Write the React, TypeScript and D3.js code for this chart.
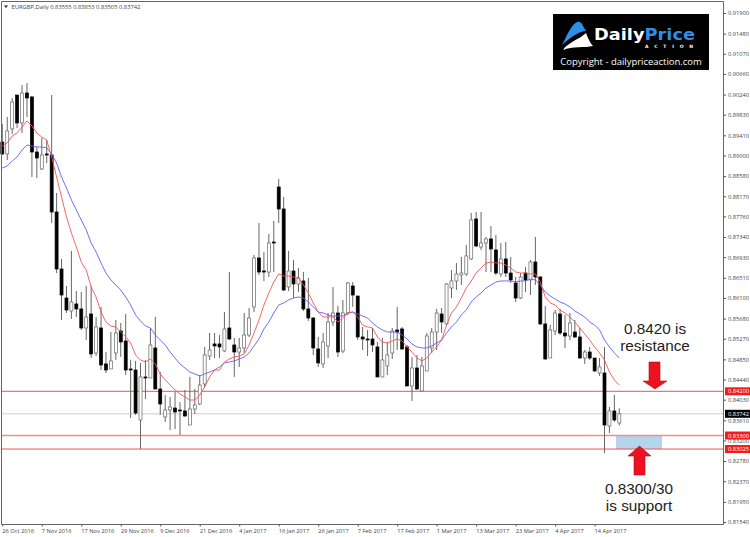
import React, { useEffect, useRef } from 'react';
import * as d3 from 'd3';

// Daily bars, oldest first
const opens = [0.89274,0.89031,0.89540,0.90231,0.89662,0.90272,0.90191,0.89071,0.88725,0.89031,0.89010,0.87850,0.86690,0.86099,0.85835,0.85978,0.85876,0.85489,0.85774,0.84980,0.85489,0.84757,0.84655,0.84980,0.85428,0.85225,0.84655,0.84634,0.83616,0.84492,0.84471,0.85082,0.84247,0.83678,0.83820,0.83860,0.83820,0.83800,0.83514,0.83840,0.83942,0.84349,0.84919,0.85164,0.85164,0.85021,0.85489,0.85143,0.85000,0.85082,0.85346,0.85917,0.86914,0.86649,0.86628,0.87239,0.88359,0.87911,0.86324,0.86649,0.86385,0.86446,0.85876,0.85692,0.85062,0.84757,0.85123,0.85611,0.85794,0.85021,0.85794,0.86344,0.86140,0.85306,0.85265,0.85265,0.85103,0.84492,0.84716,0.84980,0.85448,0.85469,0.85103,0.84308,0.84675,0.84207,0.84614,0.85082,0.85407,0.85774,0.85571,0.86303,0.86446,0.86567,0.86588,0.86894,0.87708,0.87138,0.87219,0.87301,0.87077,0.86588,0.86894,0.86608,0.86405,0.86099,0.86608,0.86466,0.86832,0.86527,0.85571,0.84878,0.85428,0.85774,0.85387,0.85326,0.85407,0.85306,0.84878,0.85000,0.84878,0.84573,0.84573,0.83494,0.83800,0.83555];
const highs = [0.89642,0.89784,0.90170,0.90231,0.90435,0.90476,0.90211,0.89173,0.89356,0.89315,0.90231,0.88237,0.86894,0.86344,0.87057,0.86242,0.86221,0.86344,0.86344,0.85713,0.85917,0.85000,0.85407,0.85652,0.85591,0.85774,0.84838,0.84818,0.84777,0.84838,0.85489,0.85713,0.84593,0.84125,0.84085,0.84186,0.83982,0.84227,0.84492,0.84247,0.84532,0.85103,0.85387,0.85387,0.85346,0.85814,0.86628,0.85285,0.85285,0.85794,0.85896,0.86975,0.87626,0.87036,0.87403,0.87667,0.88522,0.88156,0.87057,0.86873,0.86710,0.86628,0.86507,0.85713,0.85306,0.85387,0.85794,0.86324,0.85937,0.86059,0.86425,0.86425,0.86140,0.85510,0.85448,0.85489,0.85204,0.85285,0.85204,0.85489,0.85917,0.85510,0.85143,0.84899,0.84939,0.84899,0.85387,0.85489,0.85876,0.85896,0.86405,0.86669,0.86812,0.86935,0.87178,0.87830,0.87850,0.87850,0.87342,0.87565,0.87382,0.87219,0.87239,0.86935,0.86527,0.86608,0.86731,0.86873,0.87342,0.86547,0.85937,0.85550,0.85855,0.85876,0.85753,0.85794,0.85652,0.85489,0.85041,0.85103,0.84878,0.84878,0.85103,0.83881,0.84125,0.83853];
const lows = [0.89010,0.88908,0.89438,0.89560,0.89458,0.89784,0.88562,0.88542,0.88705,0.88847,0.87626,0.86608,0.85652,0.85794,0.85672,0.85713,0.85448,0.85245,0.84878,0.84919,0.84634,0.84573,0.84655,0.84838,0.84899,0.84532,0.83657,0.83718,0.83026,0.84043,0.84471,0.84247,0.83718,0.83575,0.83413,0.83433,0.83311,0.83678,0.83514,0.83739,0.83921,0.84288,0.84838,0.84878,0.84878,0.85000,0.85245,0.84492,0.84696,0.84980,0.85306,0.85814,0.86567,0.86446,0.86527,0.86628,0.87626,0.86242,0.86242,0.86099,0.86221,0.85835,0.85632,0.84939,0.84696,0.84675,0.84878,0.85530,0.84899,0.84980,0.85753,0.85917,0.85245,0.85041,0.84919,0.85000,0.84492,0.84492,0.84532,0.84858,0.85041,0.85041,0.84308,0.84003,0.84227,0.84207,0.84614,0.84980,0.85041,0.85387,0.85550,0.86099,0.86262,0.86364,0.86547,0.86873,0.87138,0.87077,0.86628,0.86628,0.86567,0.86527,0.86527,0.86405,0.86018,0.86079,0.86221,0.86160,0.86364,0.85550,0.84838,0.84878,0.85346,0.85346,0.85082,0.85245,0.85285,0.84858,0.84757,0.84838,0.84593,0.84512,0.82945,0.83352,0.83575,0.83505];
const closes = [0.89031,0.89499,0.90089,0.89662,0.90272,0.90170,0.89071,0.88949,0.89010,0.89010,0.87850,0.86690,0.86160,0.85855,0.86018,0.85876,0.85489,0.85713,0.84960,0.85510,0.84736,0.84634,0.84818,0.85387,0.85204,0.84634,0.84634,0.83759,0.84492,0.84471,0.85143,0.84247,0.83942,0.83820,0.83881,0.83779,0.83800,0.83698,0.83840,0.83921,0.84328,0.84939,0.85041,0.85123,0.85103,0.85469,0.85265,0.85000,0.85082,0.85346,0.85692,0.86914,0.86628,0.86628,0.87219,0.87219,0.87911,0.86262,0.86649,0.86385,0.86507,0.85876,0.85692,0.85082,0.84777,0.85204,0.85611,0.85794,0.85000,0.85794,0.86405,0.86160,0.85306,0.85265,0.85245,0.85143,0.84492,0.84838,0.84939,0.85428,0.85407,0.85062,0.84308,0.84675,0.84247,0.84716,0.85326,0.85407,0.85794,0.85611,0.86385,0.86446,0.86588,0.86608,0.86955,0.87687,0.87158,0.87219,0.87301,0.87097,0.86608,0.86894,0.86608,0.86466,0.86099,0.86527,0.86466,0.86832,0.86527,0.85571,0.84858,0.85448,0.85794,0.85387,0.85326,0.85591,0.85306,0.84878,0.85000,0.84878,0.84614,0.84696,0.83514,0.83800,0.83616,0.83742];

// Moving averages, one value per bar
const fastMa = [0.89193,0.89254,0.89397,0.89458,0.89580,0.89702,0.89601,0.89458,0.89376,0.89315,0.88969,0.88562,0.88156,0.87749,0.87423,0.87138,0.86832,0.86669,0.86324,0.86120,0.85814,0.85611,0.85530,0.85510,0.85407,0.85306,0.85184,0.84939,0.84838,0.84797,0.84858,0.84757,0.84553,0.84430,0.84328,0.84227,0.84145,0.84085,0.84023,0.84023,0.84125,0.84288,0.84492,0.84634,0.84634,0.84797,0.84858,0.84899,0.84919,0.84960,0.85143,0.85387,0.85652,0.85957,0.86201,0.86425,0.86588,0.86547,0.86547,0.86527,0.86507,0.86364,0.86201,0.85998,0.85814,0.85713,0.85713,0.85713,0.85611,0.85692,0.85794,0.85814,0.85713,0.85550,0.85510,0.85489,0.85306,0.85204,0.85184,0.85225,0.85265,0.85225,0.85103,0.85000,0.84878,0.84818,0.84878,0.85000,0.85103,0.85245,0.85550,0.85794,0.85917,0.86099,0.86303,0.86446,0.86608,0.86710,0.86812,0.86832,0.86812,0.86812,0.86771,0.86710,0.86628,0.86608,0.86608,0.86588,0.86588,0.86425,0.86120,0.85998,0.85957,0.85855,0.85794,0.85713,0.85611,0.85489,0.85367,0.85245,0.85103,0.84980,0.84838,0.84593,0.84430,0.84328];
const slowMa = [0.88745,0.88786,0.88888,0.88969,0.89112,0.89213,0.89193,0.89173,0.89173,0.89153,0.89031,0.88847,0.88562,0.88339,0.88094,0.87891,0.87687,0.87484,0.87219,0.87036,0.86812,0.86608,0.86466,0.86364,0.86262,0.86120,0.85957,0.85753,0.85632,0.85530,0.85489,0.85346,0.85245,0.85143,0.85000,0.84878,0.84757,0.84675,0.84593,0.84553,0.84512,0.84553,0.84593,0.84634,0.84696,0.84777,0.84797,0.84818,0.84858,0.84899,0.84980,0.85123,0.85265,0.85469,0.85611,0.85794,0.85957,0.85998,0.86059,0.86099,0.86120,0.86099,0.86018,0.85917,0.85814,0.85794,0.85753,0.85733,0.85733,0.85733,0.85794,0.85814,0.85774,0.85733,0.85692,0.85591,0.85510,0.85448,0.85407,0.85407,0.85407,0.85346,0.85265,0.85164,0.85103,0.85082,0.85082,0.85123,0.85184,0.85245,0.85387,0.85510,0.85611,0.85753,0.85855,0.86018,0.86120,0.86201,0.86303,0.86364,0.86425,0.86446,0.86446,0.86446,0.86425,0.86446,0.86446,0.86486,0.86466,0.86364,0.86221,0.86140,0.86079,0.86018,0.85978,0.85917,0.85835,0.85774,0.85713,0.85611,0.85550,0.85448,0.85245,0.85103,0.84980,0.84878];

const priceTicks = [0.919,0.9148,0.9107,0.9066,0.9024,0.8983,0.8941,0.89,0.8858,0.8817,0.8776,0.8734,0.8693,0.8651,0.861,0.8568,0.8527,0.8485,0.8444,0.8403,0.8361,0.832,0.8278,0.8237,0.8195,0.8154];
const dateTicks = ['26 Oct 2016','7 Nov 2016','17 Nov 2016','29 Nov 2016','9 Dec 2016','21 Dec 2016','4 Jan 2017','16 Jan 2017','26 Jan 2017','7 Feb 2017','17 Feb 2017','1 Mar 2017','13 Mar 2017','23 Mar 2017','4 Apr 2017','14 Apr 2017'];

const resistance = 0.842;
const supportTop = 0.833;
const supportBottom = 0.83025;
const lastClose = 0.83742;

export default function App() {
  const svgRef = useRef<SVGSVGElement>(null);

  useEffect(() => {
    if (!svgRef.current) return;
    const svg = d3.select(svgRef.current);
    svg.selectAll('*').remove();

    const frameRight = 723.5;
    const frameBottom = 524.5;
    const x = d3.scaleLinear().domain([0, 125]).range([2.3, 619.3]);
    const y = d3.scaleLinear().domain([0.8154, 0.919]).range([522, 13]);
    const axisFont = '"Open Sans", sans-serif';
    const axisSize = '5.7px';

    // Support zone + level lines sit behind the bars
    svg.append('rect')
      .attr('x', 616).attr('width', 46)
      .attr('y', y(supportTop)).attr('height', y(supportBottom) - y(supportTop))
      .attr('fill', '#b5d5ee');

    const level = (price: number, color: string, width: number) => {
      svg.append('line')
        .attr('x1', 2).attr('x2', frameRight)
        .attr('y1', y(price)).attr('y2', y(price))
        .attr('stroke', color).attr('stroke-width', width);
    };
    level(lastClose, '#cfcfcf', 1);
    level(resistance, '#f25050', 1);
    level(supportTop, '#f78c8c', 1.6);
    level(supportBottom, '#f25050', 1);

    // Candles
    const bars = d3.range(opens.length);
    svg.append('g').selectAll('line').data(bars).enter().append('line')
      .attr('x1', i => x(i)).attr('x2', i => x(i))
      .attr('y1', i => y(highs[i])).attr('y2', i => y(lows[i]))
      .attr('stroke', '#666').attr('stroke-width', 1);
    svg.append('g').selectAll('rect').data(bars).enter().append('rect')
      .attr('x', i => x(i) - 1.5)
      .attr('width', 3)
      .attr('y', i => y(Math.max(opens[i], closes[i])))
      .attr('height', i => Math.max(1, Math.abs(y(opens[i]) - y(closes[i]))))
      .attr('fill', i => (closes[i] >= opens[i] ? '#fff' : '#000'))
      .attr('stroke', i => (closes[i] >= opens[i] ? '#666' : '#000'))
      .attr('stroke-width', 0.7);

    // Moving averages
    const maLine = d3.line<number>().x((_, i) => x(i)).y(d => y(d));
    svg.append('path').attr('d', maLine(slowMa)).attr('fill', 'none').attr('stroke', '#5f5ff5').attr('stroke-width', 0.9);
    svg.append('path').attr('d', maLine(fastMa)).attr('fill', 'none').attr('stroke', '#f55555').attr('stroke-width', 0.9);

    // Frame
    svg.append('path')
      .attr('d', `M1.5,${frameBottom}V1.5H${frameRight}V${frameBottom}Z`)
      .attr('fill', 'none').attr('stroke', '#666').attr('stroke-width', 1);

    // Axes
    const yAxis = svg.append('g')
      .attr('transform', `translate(${frameRight},0)`)
      .call(d3.axisRight(y).tickValues(priceTicks).tickSize(2.5).tickPadding(2).tickFormat(d3.format('.5f') as any));
    const xAxis = svg.append('g')
      .attr('transform', `translate(0,${frameBottom})`)
      .call(d3.axisBottom(x)
        .tickValues(dateTicks.map((_, i) => i * 8))
        .tickSize(2).tickPadding(1.5)
        .tickFormat((_, i) => dateTicks[i]));
    [yAxis, xAxis].forEach(a => {
      a.select('.domain').remove();
      a.selectAll('line').attr('stroke', '#555');
      a.selectAll('text')
        .attr('fill', '#444')
        .style('font-family', axisFont)
        .style('font-size', axisSize);
    });
    xAxis.selectAll('text').attr('text-anchor', 'start').attr('dx', '-0.5').attr('dy', '0.9em');

    // Price tags on the right
    const tag = (price: number, fill: string, label: string) => {
      svg.append('rect')
        .attr('x', 725).attr('width', 25)
        .attr('y', y(price) - 4).attr('height', 8)
        .attr('fill', fill);
      svg.append('text')
        .attr('x', 728).attr('y', y(price) + 2)
        .attr('fill', '#fff')
        .style('font-family', axisFont).style('font-size', axisSize)
        .text(label);
    };
    tag(resistance, '#f01d1d', '0.84200');
    tag(supportTop, '#f01d1d', '0.83300');
    tag(supportBottom, '#f01d1d', '0.83025');
    tag(lastClose, '#000', '0.83742');

    // Header
    svg.append('path').attr('d', 'M4,5.5h4l-2,2.5Z').attr('fill', '#222');
    svg.append('text')
      .attr('x', 11.5).attr('y', 9)
      .attr('fill', '#444')
      .style('font-family', axisFont).style('font-size', '5.8px')
      .text(`EURGBP,Daily  ${opens[125].toFixed(5)} ${highs[125].toFixed(5)} ${lows[125].toFixed(5)} ${closes[125].toFixed(5)}`);

    // Big red arrows
    const arrows = [
      'M649,362H660V381H667L655,389L643,381H649Z',
      'M634,475H645V456H651L639.5,446L628,456H634Z',
    ];
    svg.append('g').selectAll('path').data(arrows).enter().append('path')
      .attr('d', d => d)
      .attr('fill', '#ee1122').attr('stroke', '#a81018').attr('stroke-width', 0.6);

    // Annotations
    const note = (cx: number, baseline: number, s: string) => {
      svg.append('text')
        .attr('x', cx).attr('y', baseline)
        .attr('text-anchor', 'middle')
        .attr('fill', '#222')
        .style('font-family', '"Liberation Sans", Arial, sans-serif')
        .style('font-size', '15.3px')
        .text(s);
    };
    note(655, 334, '0.8420 is');
    note(655, 351, 'resistance');
    note(639, 494, '0.8300/30');
    note(639, 511, 'is support');

    // Logo box
    const logo = svg.append('g');
    logo.append('rect').attr('x', 553).attr('y', 14).attr('width', 156).attr('height', 56).attr('fill', '#000');
    logo.append('path').attr('d', 'M562,45C567,36 570,26 577,22C580,21 582,23 583,26L586,31C580,31 572,36 562,45Z').attr('fill', '#2d8fe6');
    logo.append('path').attr('d', 'M563,50C567,43 578,40 586,33C588,38 590,43 593,46C585,48 572,46 563,50Z').attr('fill', '#fff');
    const brand = logo.append('text')
      .attr('x', 594).attr('y', 40)
      .attr('textLength', 101).attr('lengthAdjust', 'spacingAndGlyphs')
      .style('font-family', '"DejaVu Sans", sans-serif')
      .style('font-weight', 'bold').style('font-size', '15px');
    brand.append('tspan').attr('fill', '#fff').text('Daily');
    brand.append('tspan').attr('fill', '#2d8fe6').text('Price');
    logo.append('text')
      .attr('x', 645).attr('y', 48)
      .attr('fill', '#fff').attr('textLength', 48)
      .style('font-family', '"DejaVu Sans", sans-serif')
      .style('font-weight', 'bold').style('font-size', '4.5px')
      .text('ACTION');
    logo.append('text')
      .attr('x', 631).attr('y', 65)
      .attr('text-anchor', 'middle')
      .attr('fill', '#fff')
      .style('font-family', '"Open Sans", sans-serif')
      .style('font-size', '9.45px')
      .text('Copyright - dailypriceaction.com');
  }, []);

  return <svg ref={svgRef} width={750} height={537} style={{ position: 'absolute', left: 0, top: 0, background: '#fff' }} />;
}
